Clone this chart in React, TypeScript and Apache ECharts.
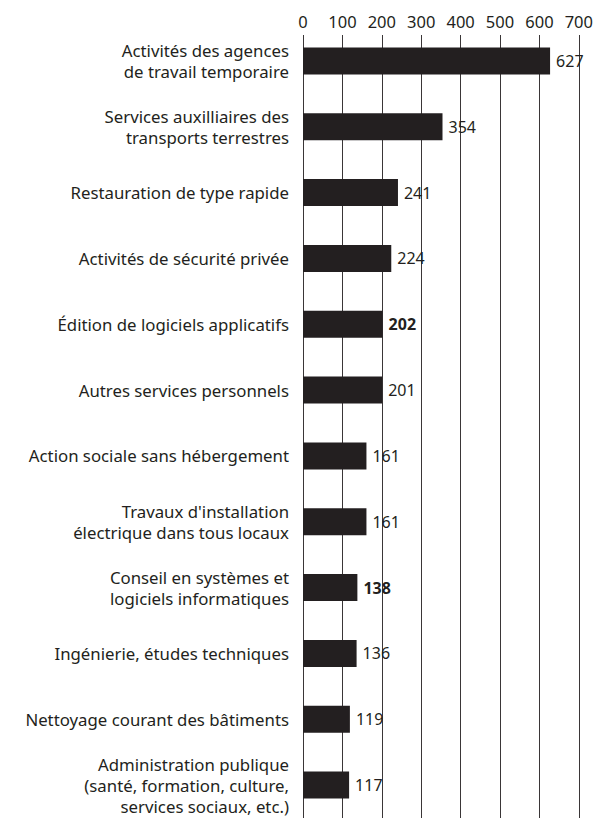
import React, { useEffect, useRef } from "react";
import * as echarts from "echarts";

const categories = [
  "Activités des agences\nde travail temporaire",
  "Services auxilliaires des\ntransports terrestres",
  "Restauration de type rapide",
  "Activités de sécurité privée",
  "Édition de logiciels applicatifs",
  "Autres services personnels",
  "Action sociale sans hébergement",
  "Travaux d'installation\nélectrique dans tous locaux",
  "Conseil en systèmes et\nlogiciels informatiques",
  "Ingénierie, études techniques",
  "Nettoyage courant des bâtiments",
  "Administration publique\n(santé, formation, culture,\nservices sociaux, etc.)",
];
const values = [627, 354, 241, 224, 202, 201, 161, 161, 138, 136, 119, 117];
const boldIndices = [4, 8];
const xTicks = [0, 100, 200, 300, 400, 500, 600, 700];

const INK = "#231f20";
const FONT = "'Noto Sans', sans-serif";

export default function App() {
  const ref = useRef<HTMLDivElement>(null);
  useEffect(() => {
    document.body.style.margin = "0";
    if (!ref.current) return;
    const chart = echarts.init(ref.current, undefined, { renderer: "svg" });
    chart.setOption({
      animation: false,
      backgroundColor: "#ffffff",
      textStyle: { fontFamily: FONT, color: INK },
      grid: { left: 303, right: 15, top: 28, bottom: -5, containLabel: false },
      xAxis: {
        type: "value",
        position: "top",
        min: xTicks[0],
        max: xTicks[xTicks.length - 1],
        interval: 100,
        offset: -7,
        axisLine: { show: false },
        axisTick: { show: true, inside: true, length: 800, lineStyle: { color: "#3a3637", width: 1 } },
        splitLine: { show: false },
        axisLabel: { fontSize: 16.5, color: INK, fontFamily: FONT, margin: 5 },
      },
      yAxis: {
        type: "category",
        inverse: true,
        data: categories,
        axisLine: { show: false },
        axisTick: { show: false },
        axisLabel: {
          fontSize: 16.8,
          color: INK,
          fontFamily: FONT,
          lineHeight: 21,
          align: "right",
          margin: 14,
        },
      },
      series: [
        {
          type: "bar",
          barWidth: 27,
          itemStyle: { color: INK },
          data: values.map((v, i) => ({
            value: v,
            label: boldIndices.includes(i) ? { fontWeight: "bold" } : undefined,
          })),
          label: {
            show: true,
            position: "right",
            distance: 6,
            fontSize: 16,
            color: INK,
            fontFamily: FONT,
          },
          z: 3,
        },
      ],
    });
    return () => chart.dispose();
  }, []);
  return <div ref={ref} style={{ width: 596, height: 818 }} />;
}
